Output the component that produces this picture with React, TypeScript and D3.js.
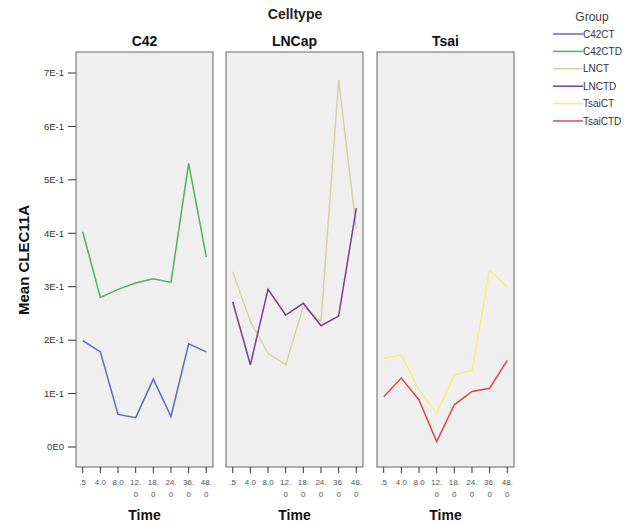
import React, { useEffect, useRef } from "react";
import * as d3 from "d3";

const times = [".5", "4.0", "8.0", "12.0", "18.0", "24.0", "36.0", "48.0"];
const celltypes = ["C42", "LNCap", "Tsai"];
const yTicks = [0, 0.1, 0.2, 0.3, 0.4, 0.5, 0.6, 0.7];
const yTickLabels = ["0E0", "1E-1", "2E-1", "3E-1", "4E-1", "5E-1", "6E-1", "7E-1"];

const groups = ["C42CT", "C42CTD", "LNCT", "LNCTD", "TsaiCT", "TsaiCTD"];
const groupCell = ["C42", "C42", "LNCap", "LNCap", "Tsai", "Tsai"];
const groupColors = ["#5a6cbc", "#4cb45a", "#d6d2a6", "#7e3b8e", "#f4ef7c", "#e04848"];

const c42ct = [0.199, 0.178, 0.061, 0.055, 0.127, 0.057, 0.193, 0.178];
const c42ctd = [0.403, 0.28, 0.295, 0.307, 0.315, 0.308, 0.531, 0.356];
const lnct = [0.328, 0.235, 0.175, 0.154, 0.263, 0.235, 0.687, 0.408];
const lnctd = [0.272, 0.154, 0.295, 0.247, 0.269, 0.227, 0.245, 0.447];
const tsaict = [0.166, 0.172, 0.107, 0.063, 0.135, 0.143, 0.331, 0.3];
const tsaictd = [0.094, 0.129, 0.088, 0.01, 0.079, 0.104, 0.11, 0.162];
const seriesValues = [c42ct, c42ctd, lnct, lnctd, tsaict, tsaictd];

const App = () => {
  const ref = useRef<SVGSVGElement>(null);

  useEffect(() => {
    const svg = d3.select(ref.current);
    svg.selectAll("*").remove();

    const font = "'Liberation Sans', Arial, sans-serif";
    const panelLeft = [76, 226, 377];
    const panelW = 137;
    const top = 52;
    const bottom = 467;

    const y = d3.scaleLinear().domain([0, 0.7]).range([447, 73]);

    svg.append("text")
      .attr("x", 295).attr("y", 19)
      .attr("text-anchor", "middle")
      .attr("font-family", font).attr("font-weight", "bold").attr("font-size", 14)
      .attr("fill", "#222")
      .text("Celltype");

    // y axis, only on the first panel
    const yAxis = svg.append("g").attr("font-family", font);
    yTicks.forEach((t, i) => {
      yAxis.append("line")
        .attr("x1", 68).attr("x2", panelLeft[0]).attr("y1", y(t)).attr("y2", y(t))
        .attr("stroke", "#333");
      yAxis.append("text")
        .attr("x", 64).attr("y", y(t)).attr("dy", "0.35em")
        .attr("text-anchor", "end").attr("font-size", 9.5).attr("fill", "#333")
        .text(yTickLabels[i]);
    });

    svg.append("text")
      .attr("transform", "translate(29,260) rotate(-90)")
      .attr("text-anchor", "middle")
      .attr("font-family", font).attr("font-weight", "bold").attr("font-size", 15)
      .attr("fill", "#111")
      .text("Mean CLEC11A");

    celltypes.forEach((ct, p) => {
      const x = d3.scalePoint<string>().domain(times)
        .range([panelLeft[p], panelLeft[p] + panelW]).padding(0.38);
      const g = svg.append("g");
      g.append("rect")
        .attr("x", panelLeft[p]).attr("y", top)
        .attr("width", panelW).attr("height", bottom - top)
        .attr("fill", "#efefef").attr("stroke", "#666").attr("stroke-width", 1);

      g.append("text")
        .attr("x", panelLeft[p] + panelW / 2).attr("y", 46)
        .attr("text-anchor", "middle")
        .attr("font-family", font).attr("font-weight", "bold").attr("font-size", 14)
        .attr("fill", "#111")
        .text(ct);

      times.forEach(t => {
        const tx = x(t)!;
        g.append("line")
          .attr("x1", tx).attr("x2", tx).attr("y1", bottom).attr("y2", bottom + 6)
          .attr("stroke", "#333");
        // long labels wrap after the decimal point, like "12." / "0"
        const parts = t.length > 3 ? [t.slice(0, t.length - 1), t.slice(-1)] : [t];
        parts.forEach((s, k) => {
          g.append("text")
            .attr("x", tx).attr("y", 485 + k * 12)
            .attr("text-anchor", "middle")
            .attr("font-family", font).attr("font-size", 8).attr("fill", "#555")
            .text(s);
        });
      });

      g.append("text")
        .attr("x", panelLeft[p] + panelW / 2).attr("y", 520)
        .attr("text-anchor", "middle")
        .attr("font-family", font).attr("font-weight", "bold").attr("font-size", 14)
        .attr("fill", "#111")
        .text("Time");

      groups.forEach((grp, gi) => {
        if (groupCell[gi] !== ct) return;
        const pts = seriesValues[gi].map((v, i) => [x(times[i])!, y(v)] as [number, number]);
        g.append("path")
          .attr("d", d3.line()(pts))
          .attr("fill", "none")
          .attr("stroke", groupColors[gi])
          .attr("stroke-width", 1.5);
      });
    });

    // legend
    const lg = svg.append("g").attr("font-family", font);
    lg.append("text")
      .attr("x", 592).attr("y", 21)
      .attr("text-anchor", "middle").attr("font-size", 12).attr("fill", "#444")
      .text("Group");
    groups.forEach((grp, i) => {
      const ly = 34 + i * 17.4;
      lg.append("line")
        .attr("x1", 553).attr("x2", 583).attr("y1", ly).attr("y2", ly)
        .attr("stroke", groupColors[i]).attr("stroke-width", 1.5);
      lg.append("text")
        .attr("x", 583).attr("y", ly).attr("dy", "0.35em")
        .attr("font-size", 10).attr("fill", "#333")
        .text(grp);
    });
  }, []);

  return (
    <svg ref={ref} width={644} height={525}
      style={{ position: "absolute", left: 0, top: 0, background: "#fff" }} />
  );
};

export default App;
